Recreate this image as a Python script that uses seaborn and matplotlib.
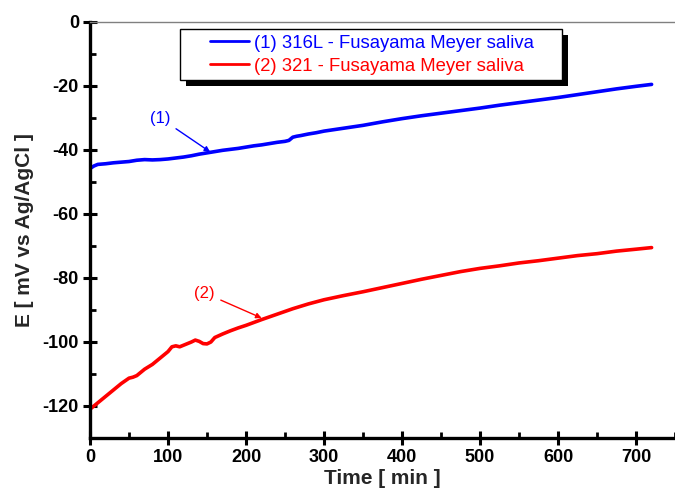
import matplotlib
matplotlib.use("Agg")
import matplotlib.pyplot as plt
import seaborn as sns
import pandas as pd
from matplotlib.patches import Rectangle
from matplotlib.transforms import IdentityTransform

sns.set_theme(style="white")
plt.rcParams['font.family'] = ['Liberation Sans', 'DejaVu Sans']
plt.rcParams['axes.unicode_minus'] = False

# --- data ---
t_316 = [0, 5, 10, 20, 30, 40, 50, 60, 70, 80, 90, 100, 110, 120, 130, 140, 150,
         160, 170, 180, 190, 200, 210, 220, 230, 240, 250, 255, 260, 265, 270, 280,
         290, 300, 325, 350, 375, 400, 425, 450, 475, 500, 525, 550, 575, 600, 625,
         650, 675, 700, 720]
e_316 = [-45.8, -45.0, -44.5, -44.3, -44.0, -43.8, -43.6, -43.2, -43.0, -43.1, -43.0,
         -42.8, -42.5, -42.2, -41.8, -41.3, -40.9, -40.5, -40.1, -39.8, -39.5, -39.1,
         -38.7, -38.4, -38.0, -37.6, -37.3, -37.0, -36.0, -35.7, -35.5, -35.0, -34.6,
         -34.1, -33.2, -32.3, -31.2, -30.2, -29.3, -28.5, -27.7, -26.9, -26.0, -25.2,
         -24.4, -23.6, -22.7, -21.8, -20.9, -20.1, -19.5]

t_321 = [0, 10, 20, 30, 40, 50, 55, 60, 70, 80, 90, 100, 105, 110, 115, 120, 130, 135,
         140, 145, 150, 155, 160, 170, 180, 190, 200, 220, 240, 260, 280, 300, 325, 350,
         375, 400, 425, 450, 475, 500, 525, 550, 575, 600, 625, 650, 675, 700, 720]
e_321 = [-121.0, -119.0, -117.0, -115.0, -113.0, -111.3, -111.0, -110.5, -108.5, -107.0,
         -105.0, -103.0, -101.5, -101.2, -101.5, -101.0, -100.0, -99.4, -99.8, -100.5,
         -100.6, -100.0, -98.6, -97.5, -96.5, -95.6, -94.8, -93.0, -91.3, -89.6, -88.1,
         -86.8, -85.5, -84.3, -83.0, -81.7, -80.4, -79.2, -78.0, -77.0, -76.2, -75.3,
         -74.6, -73.8, -73.0, -72.4, -71.6, -71.0, -70.5]

labels = ['(1) 316L - Fusayama Meyer saliva', '(2) 321 - Fusayama Meyer saliva']
colors = ['#0000ff', '#ff0000']

df1 = pd.DataFrame({'t': t_316, 'E': e_316})
df2 = pd.DataFrame({'t': t_321, 'E': e_321})

fig = plt.figure(figsize=(6.75, 4.97), dpi=100)
ax = fig.add_axes([90 / 675, 1 - 438 / 497, 585 / 675, 416 / 497])

sns.lineplot(data=df1, x='t', y='E', ax=ax, color=colors[0], lw=2.6, label=labels[0])
sns.lineplot(data=df2, x='t', y='E', ax=ax, color=colors[1], lw=2.6, label=labels[1])

ax.set_xlim(0, 750)
ax.set_ylim(-130, 0)
ax.set_xticks(range(0, 701, 100))
ax.set_xticks(range(50, 751, 100), minor=True)
ax.set_yticks(range(-120, 1, 20))
ax.set_yticks(range(-130, 0, 20), minor=True)

ax.tick_params(which='both', bottom=True, left=True, top=False, right=False, colors='black')
ax.tick_params(which='major', direction='inout', length=10, width=2.2, labelsize=13, pad=3)
ax.tick_params(which='minor', direction='in', length=4, width=2)
for lab in ax.get_xticklabels() + ax.get_yticklabels():
    lab.set_fontweight('bold')

for s in ['left', 'bottom']:
    ax.spines[s].set_linewidth(2.4)
    ax.spines[s].set_color('black')
ax.spines['top'].set_color('#808080')
ax.spines['top'].set_linewidth(1)
ax.spines['right'].set_visible(False)

ax.set_xlabel('Time [ min ]', fontsize=15, fontweight='bold', labelpad=2)
ax.set_ylabel('E [ mV vs Ag/AgCl ]', fontsize=15, fontweight='bold', labelpad=6)

leg = ax.legend(loc='upper left', bbox_to_anchor=(0.205, 0.971), borderaxespad=0,
                frameon=False, fontsize=13.3, handlelength=2.1,
                handletextpad=0.3, borderpad=0, labelspacing=0.3, handleheight=0.8)
for txt, c in zip(leg.get_texts(), colors):
    txt.set_color(c)
for h in leg.get_lines():
    h.set_linewidth(2)
leg.set_zorder(6)

ax.annotate('(1)', xy=(154, -40.6), xytext=(90, -30), color=colors[0], fontsize=12,
            ha='center', va='center',
            arrowprops=dict(arrowstyle='-|>', color=colors[0], lw=1, mutation_scale=8,
                            shrinkA=2, shrinkB=0))
ax.annotate('(2)', xy=(220, -92.5), xytext=(147, -84.7), color=colors[1], fontsize=12,
            ha='center', va='center',
            arrowprops=dict(arrowstyle='-|>', color=colors[1], lw=1, mutation_scale=8,
                            shrinkA=2, shrinkB=0))

# Origin-style legend box with a black drop shadow, sized around the legend entries
fig.canvas.draw()
bb = leg.get_window_extent()
x0, x1 = bb.x0 - 30, bb.x1 + 28
y0, y1 = bb.y0 - 5, bb.y1 + 5
shadow = Rectangle((x0 + 6, y0 - 6), x1 - x0, y1 - y0, transform=IdentityTransform(),
                   facecolor='black', edgecolor='none', zorder=4, clip_on=False)
box = Rectangle((x0, y0), x1 - x0, y1 - y0, transform=IdentityTransform(),
                facecolor='white', edgecolor='black', lw=1, zorder=5, clip_on=False)
ax.add_patch(shadow)
ax.add_patch(box)

fig.savefig('out.png', dpi=100)
